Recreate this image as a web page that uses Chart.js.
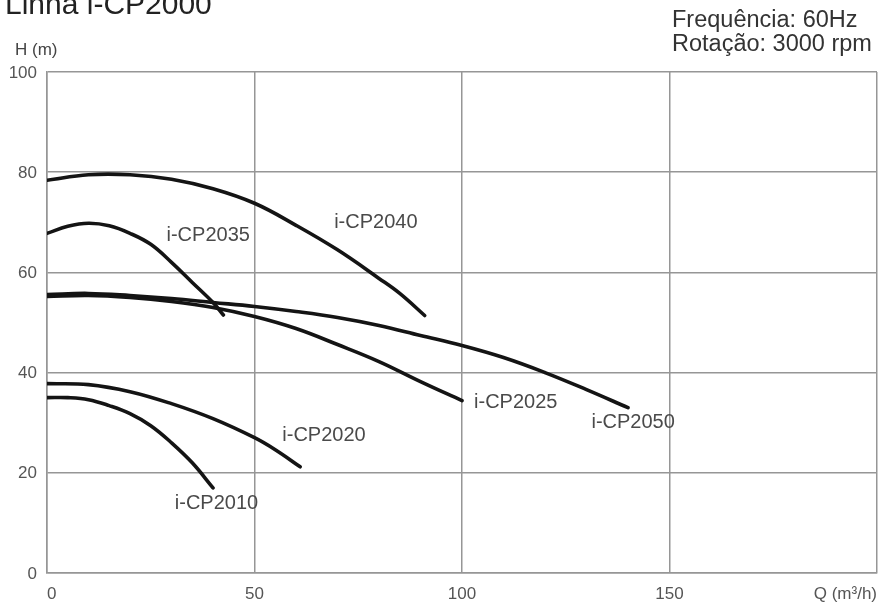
<!DOCTYPE html>
<html>
<head>
<meta charset="utf-8">
<script src="https://cdn.jsdelivr.net/npm/chart.js@4"></script>
<style>
  html, body { margin: 0; padding: 0; background: #fff; overflow: hidden; }
  #wrap { width: 885px; height: 604px; position: relative; }
</style>
</head>
<body>
<div id="wrap"><canvas id="pumpChart"></canvas></div>
<script>
// curves: flow Q (m3/h) and head H (m)
const q2010 = [0, 5, 10, 15, 20, 25, 30, 35, 40];
const h2010 = [35, 35, 34.6, 33.4, 31.8, 29.4, 26, 22, 17];

const q2020 = [0, 10, 20, 30, 40, 50, 55, 61];
const h2020 = [37.8, 37.6, 36.2, 33.8, 30.8, 27, 24.6, 21.2];

const q2025 = [0, 10, 20, 30, 40, 50, 60, 70, 80, 90, 100];
const h2025 = [55.2, 55.4, 55, 54.2, 53, 51.2, 48.8, 45.6, 42.2, 38.2, 34.4];

const q2035 = [0, 5, 10, 15, 20, 25, 30, 35, 40, 42.5];
const h2035 = [67.8, 69.2, 69.8, 69.3, 67.8, 65.6, 62, 58, 54, 51.5];

const q2040 = [0, 10, 20, 30, 40, 50, 60, 70, 80, 85, 91];
const h2040 = [78.4, 79.5, 79.5, 78.6, 76.7, 73.8, 69.4, 64.5, 58.8, 55.8, 51.4];

const q2050 = [0, 10, 20, 30, 40, 50, 60, 70, 80, 90, 100, 110, 120, 130, 140];
const h2050 = [55.6, 55.8, 55.4, 54.8, 54, 53.2, 52.2, 51, 49.4, 47.4, 45.4, 43, 40, 36.6, 33];

const seriesNames = ['i-CP2010', 'i-CP2020', 'i-CP2025', 'i-CP2035', 'i-CP2040', 'i-CP2050'];
const seriesQ = [q2010, q2020, q2025, q2035, q2040, q2050];
const seriesH = [h2010, h2020, h2025, h2035, h2040, h2050];

// where each curve name sits (left edge, in Q / H units)
const labelQ = [30.8, 56.7, 102.9, 28.8, 69.2, 131.2];
const labelH = [13.9, 27.5, 34, 67.4, 70, 30];

const xTicks = [0, 50, 100, 150, 200];
const yTicks = [0, 20, 40, 60, 80, 100];
const xUnit = 'Q (m³/h)';
const yUnit = 'H (m)';
const titleText = 'Linha i-CP2000';
const infoLines = ['Frequência: 60Hz', 'Rotação: 3000 rpm'];

const FONT = '"Liberation Sans", Arial, sans-serif';
const GRID = '#969696';

const datasets = seriesNames.map((name, i) => ({
  label: name,
  data: seriesQ[i].map((q, j) => ({ x: q, y: seriesH[i][j] })),
  borderColor: '#141414',
  borderWidth: 3.6,
  borderCapStyle: 'round',
  pointRadius: 0,
  pointHoverRadius: 0,
  tension: 0.4,
  fill: false
}));

const textPlugin = {
  id: 'textPlugin',
  afterDatasetsDraw(chart) {
    const { ctx, chartArea, scales } = chart;
    ctx.save();
    ctx.textBaseline = 'middle';
    ctx.textAlign = 'left';

    // curve names
    ctx.fillStyle = '#4a4a4a';
    ctx.font = `20px ${FONT}`;
    seriesNames.forEach((name, i) => {
      ctx.fillText(name, scales.x.getPixelForValue(labelQ[i]), scales.y.getPixelForValue(labelH[i]));
    });

    // title (cut off by the top edge, as in the scan)
    ctx.fillStyle = '#222';
    ctx.font = `30px ${FONT}`;
    ctx.textBaseline = 'alphabetic';
    ctx.fillText(titleText, chartArea.left - 42, 14);

    // y unit
    ctx.textBaseline = 'middle';
    ctx.fillStyle = '#444';
    ctx.font = `17px ${FONT}`;
    ctx.fillText(yUnit, chartArea.left - 32, chartArea.top - 22);

    // frequency / speed
    ctx.fillStyle = '#333';
    ctx.font = `23.5px ${FONT}`;
    infoLines.forEach((line, i) => {
      ctx.fillText(line, 672, 21 + i * 24);
    });
    ctx.restore();
  }
};

const ctx = document.getElementById('pumpChart').getContext('2d');
new Chart(ctx, {
  type: 'line',
  data: { datasets },
  plugins: [textPlugin],
  options: {
    responsive: true,
    maintainAspectRatio: false,
    animation: false,
    layout: { autoPadding: false, padding: { left: 0, right: 8, top: 72, bottom: 0 } },
    plugins: {
      legend: { display: false },
      tooltip: { enabled: false }
    },
    scales: {
      x: {
        type: 'linear',
        min: 0,
        max: 200,
        afterBuildTicks(scale) { scale.ticks = xTicks.map(v => ({ value: v })); },
        afterFit(scale) { scale.height = 31; },
        grid: { color: GRID, lineWidth: 1.5, drawTicks: false },
        border: { color: GRID, width: 1.5 },
        ticks: {
          align: 'inner',
          padding: 8,
          color: '#555',
          font: { family: FONT, size: 17, lineHeight: 1.6 },
          maxRotation: 0,
          callback: v => (v === 200 ? xUnit : String(v))
        }
      },
      y: {
        min: 0,
        max: 100,
        afterBuildTicks(scale) { scale.ticks = yTicks.map(v => ({ value: v })); },
        afterFit(scale) { scale.width = 47; },
        grid: { color: GRID, lineWidth: 1.5, drawTicks: false },
        border: { color: GRID, width: 1.5 },
        ticks: {
          padding: 10,
          labelOffset: 1,
          color: '#555',
          font: { family: FONT, size: 17 }
        }
      }
    }
  }
});
</script>
</body>
</html>
